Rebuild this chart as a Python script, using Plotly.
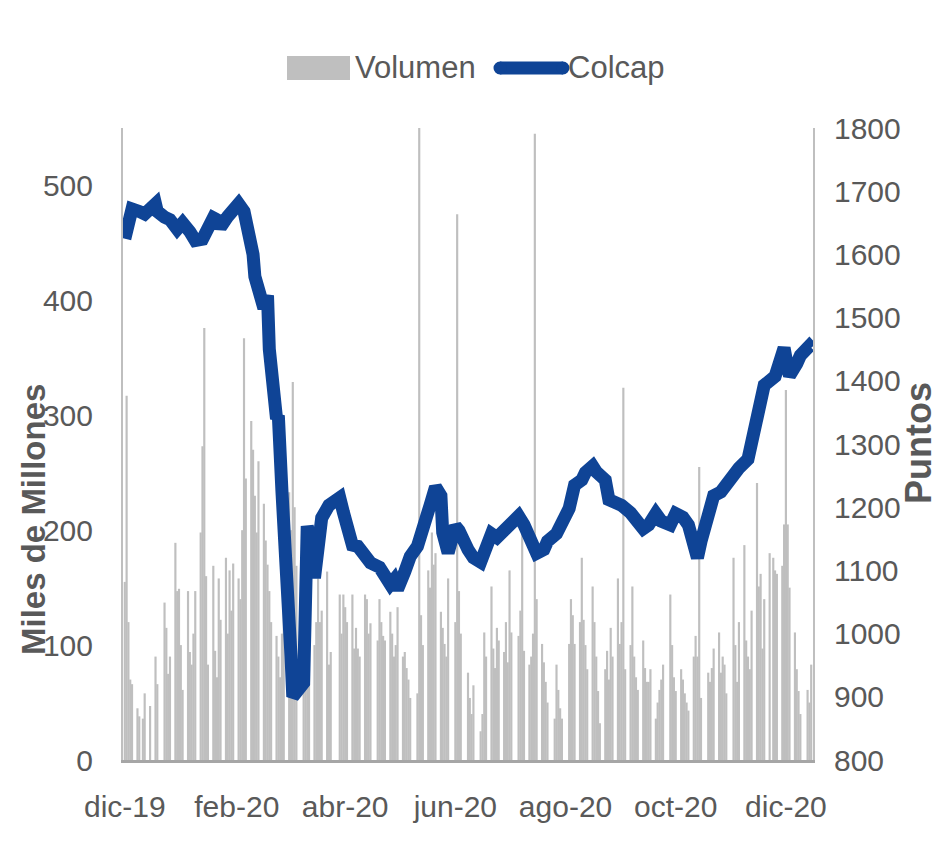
import pandas as pd
import plotly.graph_objects as go

# ---------------- DATA ----------------
# Daily traded volume (Miles de Millones), one list per month (BVC trading days)
vol_dic19 = [155, 317, 120, 70, 66, 45, 38, 36, 58, 47]
vol_ene20 = [90, 66, 137, 115, 75, 90, 189, 147, 149, 100, 61, 147, 94, 83, 110, 147, 198, 273, 376, 160, 83]
vol_feb20 = [169, 95, 72, 158, 122, 176, 110, 165, 130, 171, 158, 140, 200, 367, 245, 295, 270, 230, 198, 260]
vol_mar20 = [223, 191, 170, 147, 120, 108, 90, 72, 110, 150, 233, 200, 329, 220, 169, 144, 130, 108, 144, 100, 120]
vol_abr20 = [158, 120, 130, 164, 83, 94, 144, 110, 144, 133, 120, 144, 97, 115, 97, 90, 144, 140, 110, 119]
vol_may20 = [104, 140, 120, 108, 104, 129, 110, 90, 100, 133, 90, 94, 80, 70, 54, 58, 580, 126, 100]
vol_jun20 = [165, 150, 198, 170, 180, 129, 115, 101, 90, 158, 120, 475, 147, 110, 76, 54, 40, 65, 25]
vol_jul20 = [40, 111, 90, 151, 97, 80, 115, 104, 94, 120, 85, 165, 111, 108, 130, 198, 95, 83, 90, 110, 545, 140]
vol_ago20 = [101, 85, 68, 50, 36, 83, 61, 45, 36, 101, 140, 126, 101, 120, 176, 122, 100, 79, 151]
vol_sep20 = [120, 90, 60, 32, 79, 95, 70, 115, 90, 158, 101, 120, 324, 79, 100, 151, 90, 72, 61, 104, 80, 68]
vol_oct20 = [68, 79, 36, 50, 61, 70, 83, 144, 100, 72, 60, 79, 70, 58, 50, 43, 90, 108, 90, 255, 54]
vol_nov20 = [76, 68, 80, 97, 111, 76, 90, 83, 58, 176, 100, 68, 120, 187, 104, 90, 79, 130, 241]
vol_dic20 = [151, 162, 97, 140, 180, 176, 165, 162, 169, 205, 322, 205, 150, 111, 79, 60, 40, 61, 50, 83]

# Market holidays (no trading) in the period
holidays = ["2019-12-25", "2019-12-31", "2020-01-01", "2020-01-06", "2020-03-23",
            "2020-04-09", "2020-04-10", "2020-05-01", "2020-05-25", "2020-06-15",
            "2020-06-22", "2020-06-29", "2020-07-20", "2020-08-07", "2020-08-17",
            "2020-10-12", "2020-11-02", "2020-11-16", "2020-12-08", "2020-12-25"]

# Colcap index (Puntos)
colcap_dates = ["2019-12-16", "2019-12-18", "2019-12-20", "2019-12-24", "2019-12-27", "2020-01-02",
                "2020-01-03", "2020-01-07", "2020-01-10", "2020-01-14", "2020-01-17", "2020-01-21",
                "2020-01-24", "2020-01-28", "2020-01-31", "2020-02-03", "2020-02-05", "2020-02-07",
                "2020-02-11", "2020-02-17", "2020-02-20", "2020-02-24", "2020-02-25", "2020-02-26",
                "2020-02-28", "2020-03-02", "2020-03-04", "2020-03-05", "2020-03-09", "2020-03-10",
                "2020-03-12", "2020-03-16", "2020-03-17", "2020-03-18", "2020-03-20", "2020-03-24",
                "2020-03-26", "2020-03-27", "2020-03-30", "2020-04-01", "2020-04-03", "2020-04-07",
                "2020-04-13", "2020-04-15", "2020-04-20", "2020-04-23", "2020-04-27", "2020-04-30",
                "2020-05-05", "2020-05-07", "2020-05-11", "2020-05-13", "2020-05-15", "2020-05-19",
                "2020-05-22", "2020-05-26", "2020-05-29", "2020-06-02", "2020-06-05", "2020-06-08",
                "2020-06-09", "2020-06-12", "2020-06-16", "2020-06-18", "2020-06-23", "2020-06-25",
                "2020-06-26", "2020-06-30", "2020-07-02", "2020-07-06", "2020-07-09", "2020-07-13",
                "2020-07-17", "2020-07-21", "2020-07-24", "2020-07-28", "2020-07-31", "2020-08-04",
                "2020-08-06", "2020-08-11", "2020-08-14", "2020-08-18", "2020-08-21", "2020-08-25",
                "2020-08-27", "2020-08-31", "2020-09-02", "2020-09-07", "2020-09-09", "2020-09-14",
                "2020-09-16", "2020-09-21", "2020-09-24", "2020-09-28", "2020-10-01", "2020-10-05",
                "2020-10-08", "2020-10-13", "2020-10-16", "2020-10-20", "2020-10-23", "2020-10-26",
                "2020-10-28", "2020-10-30", "2020-11-04", "2020-11-06", "2020-11-10", "2020-11-13",
                "2020-11-18", "2020-11-20", "2020-11-25", "2020-11-27", "2020-11-30", "2020-12-03",
                "2020-12-04", "2020-12-10", "2020-12-14", "2020-12-15", "2020-12-17", "2020-12-18",
                "2020-12-22", "2020-12-24", "2020-12-29", "2020-12-30"]
colcap_values = [1625, 1660, 1672, 1668, 1664, 1680,
                 1668, 1659, 1655, 1640, 1650, 1636,
                 1622, 1624, 1642, 1658, 1655, 1643,
                 1660, 1680, 1668, 1616, 1600, 1565,
                 1550, 1515, 1535, 1450, 1340, 1345,
                 1225, 1060, 965, 900, 910, 922,
                 1170, 1158, 1088, 1125, 1183, 1203,
                 1215, 1192, 1140, 1138, 1126, 1112,
                 1105, 1098, 1078, 1085, 1070, 1098,
                 1122, 1138, 1160, 1203, 1232, 1218,
                 1160, 1128, 1170, 1163, 1133, 1125,
                 1120, 1113, 1133, 1158, 1152, 1165,
                 1178, 1186, 1172, 1140, 1127, 1133,
                 1146, 1158, 1178, 1198, 1235, 1243,
                 1255, 1265, 1256, 1243, 1212, 1206,
                 1203, 1191, 1178, 1166, 1172, 1190,
                 1178, 1172, 1190, 1184, 1172, 1128,
                 1120, 1146, 1190, 1218, 1224, 1237,
                 1250, 1262, 1276, 1302, 1352, 1380,
                 1393, 1407, 1445, 1452, 1420, 1408,
                 1427, 1440, 1455, 1452]

tick_dates = ["2019-12-16", "2020-02-16", "2020-04-16", "2020-06-16", "2020-08-16", "2020-10-16", "2020-12-16"]
tick_labels = ["dic-19", "feb-20", "abr-20", "jun-20", "ago-20", "oct-20", "dic-20"]
vol_ticks = [0, 100, 200, 300, 400, 500]
pts_ticks = [800, 900, 1000, 1100, 1200, 1300, 1400, 1500, 1600, 1700, 1800]

# ---------------- BUILD ----------------
dates = [d for d in pd.bdate_range("2019-12-16", "2020-12-30") if d.strftime("%Y-%m-%d") not in holidays]
volume = (vol_dic19 + vol_ene20 + vol_feb20 + vol_mar20 + vol_abr20 + vol_may20 + vol_jun20 +
          vol_jul20 + vol_ago20 + vol_sep20 + vol_oct20 + vol_nov20 + vol_dic20)
assert len(volume) == len(dates), (len(volume), len(dates))

OFF = 8                      # page body margin
W, H = 945 - OFF, 864 - OFF
L, T = 123 - OFF, 128 - OFF
PW, PH = 690, 632
R, B = W - L - PW, H - T - PH


def px(xs):
    """screen x (reference pixels) -> paper x"""
    return (xs - OFF - L) / PW


def py(ys):
    """screen y (reference pixels) -> paper y"""
    return (T + PH - (ys - OFF)) / PH


FONT = "Liberation Sans, Arial, sans-serif"
GRAY = "#595959"
BLUE = "#0F4496"
BARC = "#BFBFBF"

fig = go.Figure()
fig.add_trace(go.Bar(x=dates, y=volume, name="Volumen", yaxis="y",
                     marker=dict(color=BARC, line=dict(width=0)),
                     width=1.2 * 86400000))
fig.add_trace(go.Scatter(x=colcap_dates, y=colcap_values, name="Colcap", yaxis="y2",
                         mode="lines", line=dict(color=BLUE, width=13)))

tickfont = dict(family=FONT, size=30, color=GRAY)
fig.update_layout(
    width=W, height=H, margin=dict(l=L, r=R, t=T, b=B, autoexpand=False),
    paper_bgcolor="white", plot_bgcolor="white", showlegend=False,
    xaxis=dict(type="date", range=["2019-12-15", "2020-12-31"], tickvals=tick_dates,
               ticktext=tick_labels, showgrid=False, zeroline=False, showline=True,
               linecolor="#A6A6A6", linewidth=3, ticks="", tickfont=tickfont,
               ticklabelstandoff=18),
    yaxis=dict(range=[0, 550], tickvals=vol_ticks, showgrid=False, zeroline=False,
               showline=True, linecolor=BARC, linewidth=2, ticks="", tickfont=tickfont,
               ticklabelstandoff=22),
    yaxis2=dict(range=[800, 1800], tickvals=pts_ticks, overlaying="y", side="right",
                showgrid=False, zeroline=False, showline=True, linecolor=BARC, linewidth=2,
                ticks="", tickfont=tickfont, ticklabelstandoff=13),
)

fig.add_annotation(text="<b>Miles de Millones</b>", xref="paper", yref="paper",
                   x=px(33), y=py(520), textangle=-90, showarrow=False,
                   font=dict(family=FONT, size=33, color=GRAY),
                   xanchor="center", yanchor="middle")
fig.add_annotation(text="<b>Puntos</b>", xref="paper", yref="paper",
                   x=px(918), y=py(443), textangle=-90, showarrow=False,
                   font=dict(family=FONT, size=36, color=GRAY),
                   xanchor="center", yanchor="middle")

# legend (drawn manually to match swatch sizes)
legfont = dict(family=FONT, size=31, color=GRAY)
fig.add_shape(type="rect", xref="paper", yref="paper", x0=px(287), x1=px(350),
              y0=py(80), y1=py(56), fillcolor=BARC, line=dict(width=0))
fig.add_annotation(text="Volumen", xref="paper", yref="paper", x=px(353), y=py(68),
                   xanchor="left", yanchor="middle", showarrow=False, font=legfont)
fig.add_shape(type="line", xref="paper", yref="paper", x0=px(500), x1=px(563),
              y0=py(68), y1=py(68), line=dict(color=BLUE, width=13))
for cx in (500, 563):
    fig.add_shape(type="circle", xref="paper", yref="paper", xsizemode="pixel", ysizemode="pixel",
                  xanchor=px(cx), yanchor=py(68), x0=-6.5, x1=6.5, y0=-6.5, y1=6.5,
                  fillcolor=BLUE, line=dict(width=0))
fig.add_annotation(text="Colcap", xref="paper", yref="paper", x=px(566), y=py(68),
                   xanchor="left", yanchor="middle", showarrow=False, font=legfont)

fig.write_html("out.html")
